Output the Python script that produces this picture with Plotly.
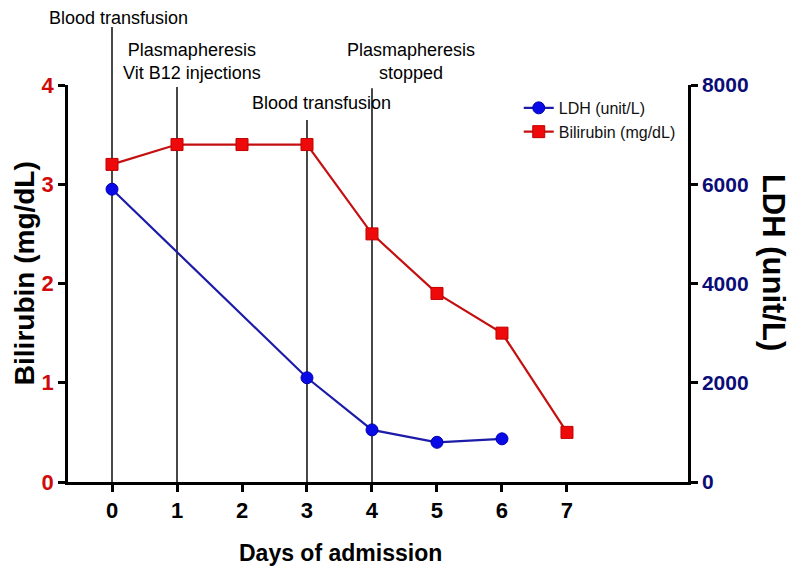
import plotly.graph_objects as go

days = [0, 1, 2, 3, 4, 5, 6, 7]
bilirubin = [3.2, 3.4, 3.4, 3.4, 2.5, 1.9, 1.5, 0.5]
ldh_days = [0, 3, 4, 5, 6]
ldh = [5900, 2100, 1050, 800, 870]

event_days = [0, 1, 3, 4]
event_tops = [1.146, 0.995, 0.912, 0.992]
event_labels = ["Blood transfusion", "Plasmapheresis<br>Vit B12 injections",
                "Blood transfusion", "Plasmapheresis<br>stopped"]
label_x = [0.1, 1.23, 3.23, 4.6]
label_y = [1.17, 1.058, 0.955, 1.058]

left_ticks = [0, 1, 2, 3, 4]
right_ticks = [0, 2000, 4000, 6000, 8000]
x_ticks = [0, 1, 2, 3, 4, 5, 6, 7]

FONT = "Liberation Sans, Arial, sans-serif"
RED_LINE = "#c41010"
RED_MARK = "#ee0a0a"
BLUE_LINE = "#1c1ca8"
BLUE_MARK = "#0a0ae6"
NAVY = "#0c0c78"

fig = go.Figure()
fig.add_trace(go.Scatter(
    x=ldh_days, y=ldh, name="LDH (unit/L)", yaxis="y2", mode="lines+markers",
    line=dict(color=BLUE_LINE, width=2.2),
    marker=dict(symbol="circle", size=12, color=BLUE_MARK, line=dict(color="#0000b0", width=1)),
))
fig.add_trace(go.Scatter(
    x=days, y=bilirubin, name="Bilirubin (mg/dL)", mode="lines+markers",
    line=dict(color=RED_LINE, width=2.2),
    marker=dict(symbol="square", size=12, color=RED_MARK, line=dict(color="#c00000", width=1)),
))

for d, top in zip(event_days, event_tops):
    fig.add_shape(type="line", xref="x", yref="paper", x0=d, x1=d, y0=0, y1=top,
                  line=dict(color="#1a1a1a", width=1.6), layer="below")

for lx, ly, txt in zip(label_x, label_y, event_labels):
    fig.add_annotation(x=lx, y=ly, xref="x", yref="paper", text=txt, showarrow=False,
                       font=dict(family=FONT, size=18, color="#000000"),
                       xanchor="center", yanchor="middle", align="center")

fig.add_annotation(x=-0.071, y=0.526, xref="paper", yref="paper", text="<b>Bilirubin (mg/dL)</b>",
                   showarrow=False, textangle=-90, font=dict(family=FONT, size=28, color="#000000"),
                   xanchor="center", yanchor="middle")
fig.add_annotation(x=1.137, y=0.552, xref="paper", yref="paper", text="<b>LDH (unit/L)</b>",
                   showarrow=False, textangle=90, font=dict(family=FONT, size=31, color="#000000"),
                   xanchor="center", yanchor="middle")
fig.add_annotation(x=0.439, y=-0.179, xref="paper", yref="paper", text="<b>Days of admission</b>",
                   showarrow=False, font=dict(family=FONT, size=23, color="#000000"),
                   xanchor="center", yanchor="middle")

fig.update_layout(
    width=796, height=576,
    margin=dict(l=60, r=116, t=77, b=102),
    paper_bgcolor="white", plot_bgcolor="white",
    font=dict(family=FONT),
    showlegend=True,
    legend=dict(x=0.727, y=0.985, xanchor="left", yanchor="top",
                font=dict(family=FONT, size=16, color="#111111"),
                bgcolor="rgba(0,0,0,0)", tracegroupgap=0),
    xaxis=dict(range=[-0.677, 8.862], tickvals=x_ticks, ticktext=[f"<b>{t}</b>" for t in x_ticks],
               showline=True, linecolor="black", linewidth=2.5, ticks="outside", ticklen=7,
               tickwidth=2.5, tickcolor="black", showgrid=False, zeroline=False,
               tickfont=dict(family=FONT, size=22, color="black")),
    yaxis=dict(range=[0, 4], tickvals=left_ticks, ticktext=[f"<b>{t}</b>" for t in left_ticks],
               showline=True, linecolor="black", linewidth=2.5, ticks="outside", ticklen=7,
               tickwidth=2.5, tickcolor="black", showgrid=False, zeroline=False,
               tickfont=dict(family=FONT, size=22, color="#d00a0a")),
    yaxis2=dict(range=[0, 8000], overlaying="y", side="right", tickvals=right_ticks,
                ticktext=[f"<b>{t}</b>" for t in right_ticks],
                showline=True, linecolor="black", linewidth=2.5, ticks="outside", ticklen=7,
                tickwidth=2.5, tickcolor="black", showgrid=False, zeroline=False,
                tickfont=dict(family=FONT, size=21, color=NAVY)),
)

fig.write_html("out.html")
